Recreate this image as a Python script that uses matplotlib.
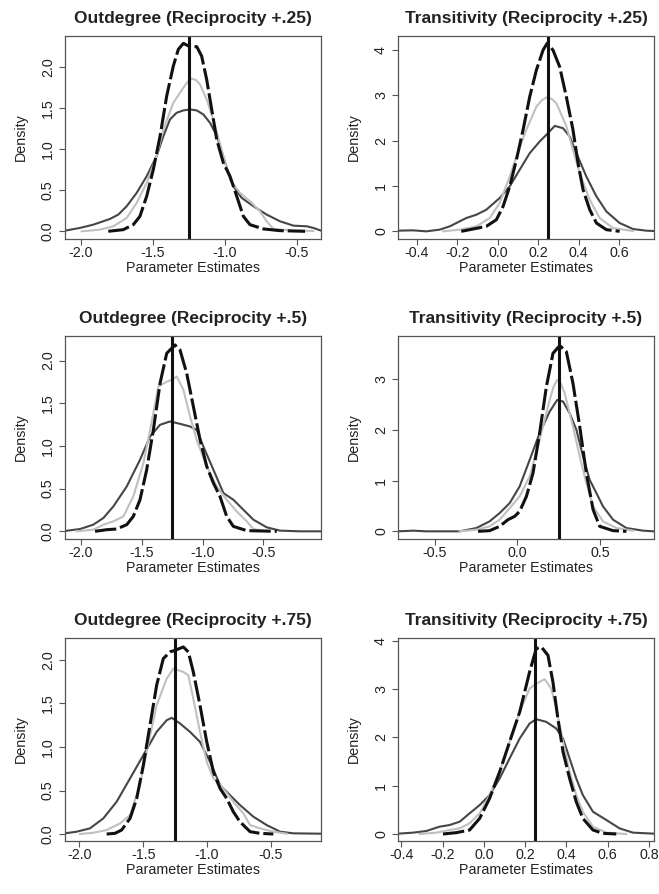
import matplotlib.pyplot as plt

plt.rcParams['font.family'] = ['Liberation Sans', 'DejaVu Sans']

W, H = 659, 894

TRUE_OUTDEGREE = -1.25
TRUE_TRANSITIVITY = 0.25

# ---- Outdegree (Reciprocity +.25) ----
od25_dark_x = [-2.111, -2.007, -1.914, -1.798, -1.740, -1.682, -1.613, -1.543, -1.474, -1.427, -1.381, -1.335,
               -1.288, -1.242, -1.195, -1.149, -1.103, -1.056, -1.033, -0.975, -0.940, -0.882, -0.801, -0.709,
               -0.616, -0.523, -0.430, -0.384, -0.331]
od25_dark_y = [0.008, 0.041, 0.081, 0.151, 0.204, 0.306, 0.468, 0.672, 0.917, 1.161, 1.365, 1.446,
               1.475, 1.487, 1.475, 1.426, 1.324, 1.169, 1.039, 0.713, 0.550, 0.407, 0.306, 0.204,
               0.122, 0.069, 0.061, 0.041, 0.008]
od25_light_x = [-1.995, -1.868, -1.775, -1.682, -1.613, -1.543, -1.474, -1.427, -1.358, -1.288, -1.260, -1.230,
                -1.200, -1.172, -1.126, -1.080, -1.010, -0.964, -0.894, -0.825, -0.755, -0.709, -0.662, -0.523,
                -0.384]
od25_light_y = [0.0, 0.020, 0.061, 0.163, 0.346, 0.591, 0.917, 1.242, 1.568, 1.752, 1.821, 1.862,
                1.845, 1.792, 1.609, 1.365, 0.917, 0.631, 0.468, 0.367, 0.244, 0.122, 0.029, 0.008,
                0.004]
od25_black_x = [-1.810, -1.706, -1.636, -1.590, -1.543, -1.497, -1.450, -1.404, -1.358, -1.323, -1.288, -1.242,
                -1.195, -1.161, -1.126, -1.091, -1.056, -1.010, -0.964, -0.917, -0.871, -0.825, -0.732, -0.616,
                -0.442]
od25_black_y = [0.0, 0.020, 0.081, 0.183, 0.428, 0.754, 1.161, 1.650, 2.016, 2.220, 2.293, 2.253,
                2.253, 2.139, 1.853, 1.487, 1.120, 0.835, 0.672, 0.428, 0.183, 0.081, 0.029, 0.008,
                0.0]

# ---- Transitivity (Reciprocity +.25) ----
tr25_dark_x = [-0.494, -0.420, -0.354, -0.288, -0.238, -0.189, -0.156, -0.106, -0.057, 0.009, 0.059, 0.108,
               0.158, 0.207, 0.240, 0.282, 0.323, 0.356, 0.389, 0.438, 0.488, 0.537, 0.603, 0.669, 0.735, 0.773]
tr25_dark_y = [0.015, 0.022, 0.0, 0.037, 0.110, 0.220, 0.294, 0.367, 0.477, 0.734, 0.991, 1.358,
               1.725, 1.982, 2.128, 2.327, 2.275, 2.092, 1.725, 1.211, 0.771, 0.440, 0.183, 0.051, 0.015, 0.007]
tr25_light_x = [-0.271, -0.189, -0.106, -0.040, 0.009, 0.059, 0.092, 0.141, 0.191, 0.219, 0.244, 0.267,
                0.290, 0.340, 0.372, 0.405, 0.455, 0.504, 0.570, 0.669]
tr25_light_y = [0.0, 0.037, 0.110, 0.294, 0.624, 1.211, 1.651, 2.239, 2.752, 2.899, 2.958, 2.921,
                2.826, 2.312, 1.798, 1.284, 0.697, 0.294, 0.073, 0.007]
tr25_black_x = [-0.181, -0.123, -0.057, -0.007, 0.026, 0.059, 0.092, 0.125, 0.158, 0.191, 0.224, 0.244,
                0.273, 0.306, 0.339, 0.372, 0.397, 0.422, 0.455, 0.488, 0.537, 0.603]
tr25_black_y = [0.0, 0.051, 0.110, 0.257, 0.550, 0.991, 1.578, 2.239, 2.972, 3.560, 4.000, 4.147,
                4.000, 3.633, 2.972, 2.239, 1.505, 0.917, 0.477, 0.183, 0.037, 0.0]

# ---- Outdegree (Reciprocity +.5) ----
od50_dark_x = [-2.132, -2.008, -1.899, -1.816, -1.734, -1.624, -1.515, -1.432, -1.350, -1.268, -1.186, -1.103,
               -1.049, -0.994, -0.911, -0.829, -0.747, -0.665, -0.582, -0.473, -0.363, -0.199, -0.026]
od50_dark_y = [0.004, 0.027, 0.078, 0.156, 0.292, 0.526, 0.838, 1.111, 1.248, 1.287, 1.259, 1.228,
               1.189, 0.994, 0.721, 0.448, 0.370, 0.253, 0.136, 0.047, 0.008, 0.0, 0.0]
od50_light_x = [-2.036, -1.899, -1.816, -1.734, -1.652, -1.570, -1.487, -1.432, -1.364, -1.295, -1.254, -1.213,
                -1.158, -1.103, -1.049, -0.966, -0.884, -0.802, -0.720, -0.637, -0.582, -0.473]
od50_light_y = [0.0, 0.019, 0.078, 0.117, 0.175, 0.409, 0.799, 1.189, 1.696, 1.754, 1.774, 1.813,
                1.657, 1.345, 1.072, 0.760, 0.526, 0.370, 0.234, 0.117, 0.027, 0.0]
od50_black_x = [-1.885, -1.789, -1.707, -1.624, -1.570, -1.515, -1.460, -1.405, -1.350, -1.295, -1.227, -1.186,
                -1.131, -1.076, -1.021, -0.966, -0.911, -0.857, -0.802, -0.747, -0.637, -0.390]
od50_black_y = [0.0, 0.019, 0.027, 0.078, 0.175, 0.370, 0.721, 1.189, 1.735, 2.086, 2.183, 2.125,
                1.852, 1.462, 1.072, 0.760, 0.565, 0.409, 0.175, 0.058, 0.008, 0.0]

# ---- Transitivity (Reciprocity +.5) ----
tr50_dark_x = [-0.723, -0.632, -0.552, -0.349, -0.248, -0.168, -0.107, -0.046, 0.014, 0.075, 0.135, 0.196,
               0.242, 0.277, 0.317, 0.358, 0.398, 0.438, 0.479, 0.519, 0.580, 0.661, 0.762, 0.828]
tr50_dark_y = [0.0, 0.013, 0.0, 0.0, 0.065, 0.196, 0.360, 0.557, 0.884, 1.408, 1.932, 2.358,
               2.587, 2.554, 2.325, 1.997, 1.473, 1.015, 0.753, 0.491, 0.229, 0.065, 0.013, 0.0]
tr50_light_x = [-0.349, -0.248, -0.168, -0.107, -0.046, 0.014, 0.075, 0.135, 0.196, 0.220, 0.242, 0.263,
                0.287, 0.337, 0.378, 0.418, 0.459, 0.519, 0.600, 0.701]
tr50_light_y = [0.0, 0.033, 0.098, 0.229, 0.458, 0.688, 1.081, 1.801, 2.587, 2.849, 2.980, 2.914,
                2.718, 2.063, 1.473, 0.950, 0.491, 0.196, 0.065, 0.013]
tr50_black_x = [-0.238, -0.168, -0.107, -0.057, -0.016, 0.014, 0.055, 0.095, 0.135, 0.176, 0.216, 0.257,
                0.297, 0.337, 0.378, 0.418, 0.459, 0.499, 0.580, 0.661]
tr50_black_y = [0.0, 0.013, 0.098, 0.229, 0.295, 0.393, 0.688, 1.146, 1.932, 2.849, 3.504, 3.654,
                3.536, 2.914, 2.063, 1.146, 0.426, 0.098, 0.013, 0.0]

# ---- Outdegree (Reciprocity +.75) ----
od75_dark_x = [-2.112, -2.021, -1.917, -1.812, -1.708, -1.603, -1.499, -1.395, -1.316, -1.277, -1.212, -1.134,
               -1.056, -0.977, -0.899, -0.821, -0.743, -0.638, -0.534, -0.429, -0.325, -0.109]
od75_dark_y = [0.008, 0.027, 0.065, 0.180, 0.371, 0.639, 0.906, 1.174, 1.308, 1.335, 1.270, 1.174,
               1.059, 0.830, 0.562, 0.447, 0.333, 0.199, 0.103, 0.027, 0.008, 0.004]
od75_light_x = [-1.995, -1.890, -1.786, -1.682, -1.603, -1.525, -1.473, -1.395, -1.316, -1.264, -1.186, -1.147,
                -1.108, -1.056, -1.003, -0.951, -0.873, -0.795, -0.716, -0.664, -0.586, -0.482, -0.377]
od75_light_y = [0.0, 0.015, 0.046, 0.122, 0.218, 0.562, 0.945, 1.480, 1.786, 1.901, 1.862, 1.824,
                1.556, 1.174, 0.830, 0.639, 0.524, 0.371, 0.237, 0.103, 0.065, 0.027, 0.004]
od75_black_x = [-1.786, -1.721, -1.669, -1.603, -1.551, -1.499, -1.447, -1.395, -1.343, -1.290, -1.251, -1.186,
                -1.147, -1.108, -1.056, -1.003, -0.951, -0.899, -0.847, -0.795, -0.743, -0.664, -0.586, -0.482]
od75_black_y = [0.0, 0.008, 0.046, 0.180, 0.409, 0.792, 1.250, 1.709, 2.015, 2.092, 2.111, 2.149,
                2.092, 1.862, 1.480, 1.059, 0.715, 0.524, 0.409, 0.256, 0.141, 0.027, 0.008, 0.0]

# ---- Transitivity (Reciprocity +.75) ----
tr75_dark_x = [-0.416, -0.343, -0.279, -0.214, -0.166, -0.117, -0.069, -0.020, 0.028, 0.077, 0.125, 0.174,
               0.222, 0.254, 0.303, 0.351, 0.384, 0.416, 0.448, 0.480, 0.529, 0.594, 0.658, 0.723, 0.825]
tr75_dark_y = [0.007, 0.028, 0.062, 0.152, 0.186, 0.255, 0.428, 0.600, 0.807, 1.152, 1.566, 1.979,
               2.290, 2.379, 2.324, 2.186, 1.979, 1.566, 1.152, 0.807, 0.462, 0.290, 0.117, 0.028, 0.007]
tr75_light_x = [-0.311, -0.230, -0.166, -0.117, -0.069, -0.020, 0.028, 0.077, 0.125, 0.174, 0.222, 0.254,
                0.295, 0.327, 0.351, 0.384, 0.416, 0.448, 0.480, 0.529, 0.594, 0.690]
tr75_light_y = [0.0, 0.028, 0.083, 0.117, 0.221, 0.428, 0.807, 1.290, 1.910, 2.531, 3.014, 3.117,
                3.207, 3.014, 2.600, 1.910, 1.290, 0.807, 0.462, 0.152, 0.028, 0.0]
tr75_black_x = [-0.198, -0.133, -0.069, -0.020, 0.028, 0.077, 0.125, 0.174, 0.222, 0.254, 0.279, 0.311,
                0.335, 0.359, 0.384, 0.416, 0.448, 0.480, 0.529, 0.577, 0.642]
tr75_black_y = [0.0, 0.028, 0.083, 0.324, 0.738, 1.290, 1.910, 2.531, 3.359, 3.841, 3.876, 3.703,
                3.152, 2.393, 1.703, 1.152, 0.669, 0.324, 0.083, 0.014, 0.0]

titles = ['Outdegree (Reciprocity +.25)', 'Transitivity (Reciprocity +.25)',
          'Outdegree (Reciprocity +.5)', 'Transitivity (Reciprocity +.5)',
          'Outdegree (Reciprocity +.75)', 'Transitivity (Reciprocity +.75)']

x_ticks_out = [-2.0, -1.5, -1.0, -0.5]
x_labels_out = ['-2.0', '-1.5', '-1.0', '-0.5']
y_ticks_out = [0.0, 0.5, 1.0, 1.5, 2.0]
y_labels_out = ['0.0', '0.5', '1.0', '1.5', '2.0']
x_ticks_tr_a = [-0.4, -0.2, 0.0, 0.2, 0.4, 0.6]
x_labels_tr_a = ['-0.4', '-0.2', '0.0', '0.2', '0.4', '0.6']
x_ticks_tr_b = [-0.5, 0.0, 0.5]
x_labels_tr_b = ['-0.5', '0.0', '0.5']
x_ticks_tr_c = [-0.4, -0.2, 0.0, 0.2, 0.4, 0.6, 0.8]
x_labels_tr_c = ['-0.4', '-0.2', '0.0', '0.2', '0.4', '0.6', '0.8']
y_ticks_tr4 = [0, 1, 2, 3, 4]
y_ticks_tr3 = [0, 1, 2, 3]

# panel boxes in pixels: left, top, right, bottom
boxes = [(65, 36, 321, 239), (398, 36, 654, 239),
         (65, 336, 321, 539), (398, 336, 654, 539),
         (65, 638, 321, 841), (398, 638, 654, 841)]

panels = [
    dict(curves=(od25_dark_x, od25_dark_y, od25_light_x, od25_light_y, od25_black_x, od25_black_y),
         truth=TRUE_OUTDEGREE, xlim=(-2.111, -0.331), ylim=(-0.094, 2.383),
         xt=x_ticks_out, xl=x_labels_out, yt=y_ticks_out, yl=y_labels_out),
    dict(curves=(tr25_dark_x, tr25_dark_y, tr25_light_x, tr25_light_y, tr25_black_x, tr25_black_y),
         truth=TRUE_TRANSITIVITY, xlim=(-0.494, 0.773), ylim=(-0.169, 4.31),
         xt=x_ticks_tr_a, xl=x_labels_tr_a, yt=y_ticks_tr4, yl=[str(v) for v in y_ticks_tr4]),
    dict(curves=(od50_dark_x, od50_dark_y, od50_light_x, od50_light_y, od50_black_x, od50_black_y),
         truth=TRUE_OUTDEGREE, xlim=(-2.132, -0.026), ylim=(-0.090, 2.288),
         xt=x_ticks_out, xl=x_labels_out, yt=y_ticks_out, yl=y_labels_out),
    dict(curves=(tr50_dark_x, tr50_dark_y, tr50_light_x, tr50_light_y, tr50_black_x, tr50_black_y),
         truth=TRUE_TRANSITIVITY, xlim=(-0.723, 0.828), ylim=(-0.151, 3.844),
         xt=x_ticks_tr_b, xl=x_labels_tr_b, yt=y_ticks_tr3, yl=[str(v) for v in y_ticks_tr3]),
    dict(curves=(od75_dark_x, od75_dark_y, od75_light_x, od75_light_y, od75_black_x, od75_black_y),
         truth=TRUE_OUTDEGREE, xlim=(-2.112, -0.109), ylim=(-0.080, 2.252),
         xt=x_ticks_out, xl=x_labels_out, yt=y_ticks_out, yl=y_labels_out),
    dict(curves=(tr75_dark_x, tr75_dark_y, tr75_light_x, tr75_light_y, tr75_black_x, tr75_black_y),
         truth=TRUE_TRANSITIVITY, xlim=(-0.416, 0.825), ylim=(-0.145, 4.062),
         xt=x_ticks_tr_c, xl=x_labels_tr_c, yt=y_ticks_tr4, yl=[str(v) for v in y_ticks_tr4]),
]

TEXT = '#222222'

fig = plt.figure(figsize=(W / 100, H / 100), dpi=100)

for title, box, p in zip(titles, boxes, panels):
    l, t, r, b = box
    ax = fig.add_axes([l / W, 1 - b / H, (r - l) / W, (b - t) / H])
    dx, dy, lx, ly, bx, by = p['curves']

    ax.plot(dx, dy, color='#464646', lw=1.5, solid_joinstyle='round')
    ax.plot(lx, ly, color='#c0c0c0', lw=1.5, solid_joinstyle='round')
    ax.plot(bx, by, color='#111111', lw=2.2, dashes=(7, 1.3), dash_joinstyle='round')
    ax.axvline(p['truth'], color='#111111', lw=2.2)

    ax.set_xlim(*p['xlim'])
    ax.set_ylim(*p['ylim'])
    ax.set_xticks(p['xt'])
    ax.set_xticklabels(p['xl'])
    ax.set_yticks(p['yt'])
    ax.set_yticklabels(p['yl'], rotation=90, va='center')

    ax.tick_params(direction='out', length=4.2, width=0.8, colors='#555555',
                   labelsize=10.3, labelcolor=TEXT, pad=1)
    ax.tick_params(axis='y', pad=3)
    for s in ax.spines.values():
        s.set_linewidth(0.9)
        s.set_color('#555555')

    ax.set_title(title, fontsize=12.5, fontweight='bold', color=TEXT, pad=9)
    ax.set_xlabel('Parameter Estimates', fontsize=10.3, color=TEXT)
    ax.set_ylabel('Density', fontsize=10.3, color=TEXT)
    # label offsets in pixels from the axes box, as in the reference
    ax.xaxis.set_label_coords(0.5, -22 / (b - t))
    ax.yaxis.set_label_coords(-37 / (r - l), 0.5)

fig.savefig('out.png', dpi=100)
